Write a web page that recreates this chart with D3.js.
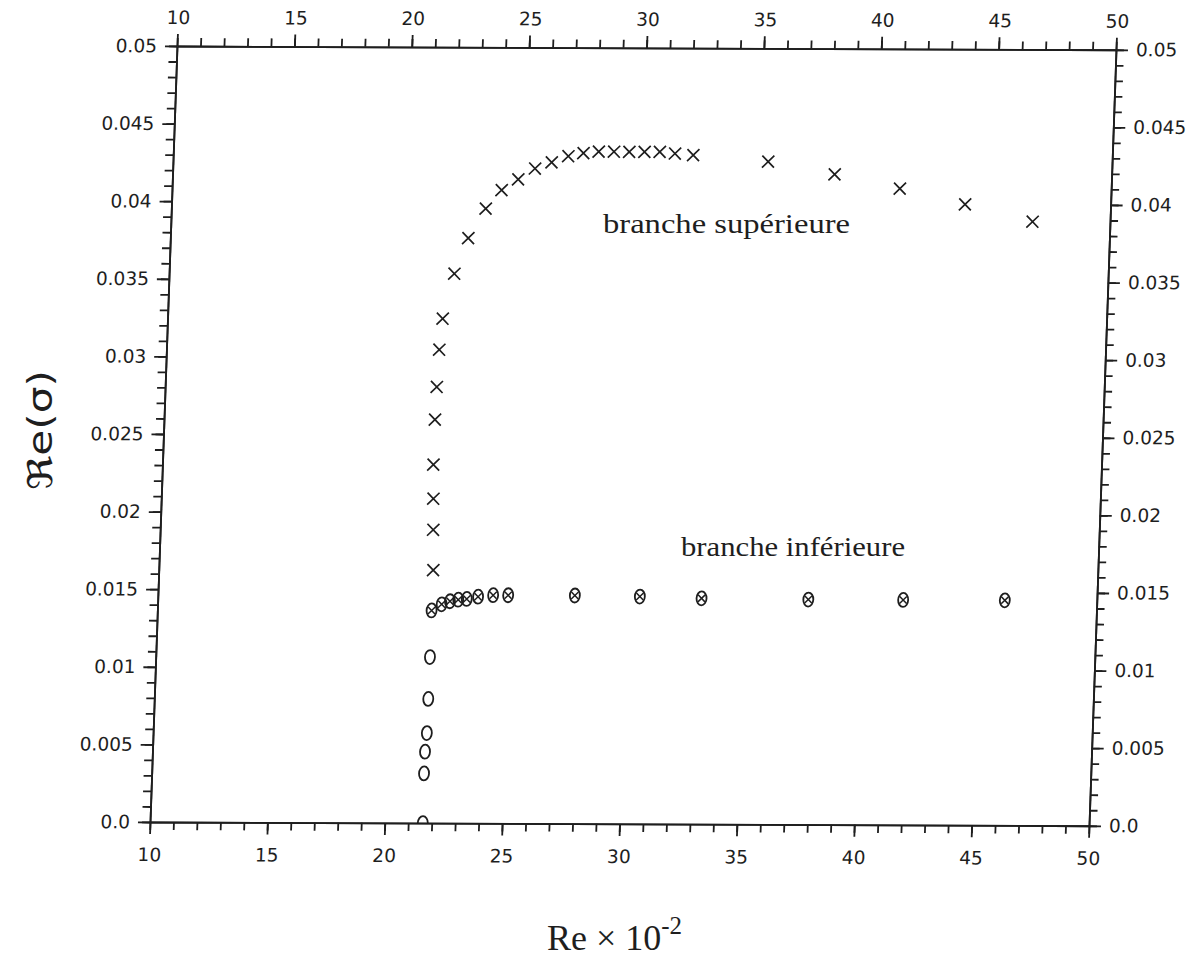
<!DOCTYPE html>
<html>
<head>
<meta charset="utf-8">
<script src="https://cdn.jsdelivr.net/npm/d3@7"></script>
<style>
  body { margin: 0; background: #fff; }
  svg { display: block; }
</style>
</head>
<body>
<div id="chart"></div>
<script>
// Data
var reUpper    = [21.69, 21.63, 21.59, 21.54, 21.54, 21.57, 21.62, 21.72, 22.15, 22.69, 23.39, 24.04, 24.73, 25.43, 26.13, 26.83,
                  27.47, 28.12, 28.77, 29.42, 30.07, 30.72, 31.37, 32.15, 35.35, 38.20, 41.00, 43.80, 46.70];
var sigmaUpper = [0.0163, 0.0189, 0.0209, 0.0231, 0.0260, 0.0281, 0.0305, 0.0325, 0.0354, 0.0377, 0.0396, 0.0408, 0.0415, 0.0422, 0.0426, 0.0430,
                  0.0432, 0.0433, 0.0433, 0.0433, 0.0433, 0.0433, 0.0432, 0.0431, 0.0427, 0.0419, 0.0410, 0.0400, 0.0389];

var reLower    = [21.62, 21.60, 21.61, 21.66, 21.67, 21.68];
var sigmaLower = [0.0, 0.0032, 0.0046, 0.0058, 0.0080, 0.0107];

// points where both branches coincide (drawn o with x)
var reBoth     = [21.68, 22.10, 22.45, 22.80, 23.16, 23.64, 24.28, 24.92, 27.76, 30.53, 33.16, 37.71, 41.75, 46.08];
var sigmaBoth  = [0.0137, 0.0141, 0.0143, 0.0144, 0.01445, 0.0146, 0.0147, 0.0147, 0.0147, 0.01465, 0.01455, 0.0145, 0.0145, 0.0145];

var xMajor = d3.range(10, 51, 5),
    xMinor = d3.range(10, 51, 1),
    yMajor = d3.range(0, 0.0501, 0.005),
    yMinor = d3.range(0, 0.0501, 0.001);

var ink = "#1e1e1e";

// Layout (the scan is slightly sheared, so the plot group gets a matrix)
var width  = 1193,
    height = 969,
    W = 939,
    H = 776;

var svg = d3.select("#chart").append("svg")
    .attr("width", width)
    .attr("height", height);

var g = svg.append("g")
    .attr("transform", "matrix(1,0.004,-0.0348,1,177,46)");

var x = d3.scaleLinear().domain([10, 50]).range([0, W]);
var y = d3.scaleLinear().domain([0, 0.05]).range([H, 0]);

var fmtY = function(d) { return d < 1e-9 ? "0.0" : String(+d.toFixed(3)); };
var fmtX = function(d) { return String(d); };

function styleAxis(sel) {
  sel.selectAll("path, line").attr("stroke", ink).attr("stroke-width", 1.8);
  sel.selectAll("text")
     .attr("fill", ink)
     .style("font-family", "'DejaVu Sans', sans-serif")
     .style("font-size", "18.5px");
}

// minor ticks (no labels)
function minor(axis, vals) {
  return axis.tickValues(vals).tickSize(8).tickSizeOuter(0).tickFormat("");
}

g.append("g").attr("transform", "translate(0," + H + ")")
  .call(minor(d3.axisBottom(x), xMinor)).call(styleAxis);
g.append("g")
  .call(minor(d3.axisTop(x), xMinor)).call(styleAxis);
g.append("g")
  .call(minor(d3.axisLeft(y), yMinor)).call(styleAxis);
g.append("g").attr("transform", "translate(" + W + ",0)")
  .call(minor(d3.axisRight(y), yMinor)).call(styleAxis);

// major ticks with labels
g.append("g").attr("transform", "translate(0," + H + ")")
  .call(d3.axisBottom(x).tickValues(xMajor).tickSize(12).tickSizeOuter(0).tickPadding(14).tickFormat(fmtX))
  .call(styleAxis);
g.append("g")
  .call(d3.axisTop(x).tickValues(xMajor).tickSize(12).tickSizeOuter(0).tickPadding(10).tickFormat(fmtX))
  .call(styleAxis);
g.append("g")
  .call(d3.axisLeft(y).tickValues(yMajor).tickSize(12).tickSizeOuter(0).tickPadding(8).tickFormat(fmtY))
  .call(styleAxis);
g.append("g").attr("transform", "translate(" + W + ",0)")
  .call(d3.axisRight(y).tickValues(yMajor).tickSize(12).tickSizeOuter(0).tickPadding(8).tickFormat(fmtY))
  .call(styleAxis);

// clip markers to the frame (the o at 0 shows only its top half)
g.append("clipPath").attr("id", "frame")
  .append("rect").attr("x", 0).attr("y", 0).attr("width", W).attr("height", H);

var marks = g.append("g").attr("clip-path", "url(#frame)");

var cross = function(s) {
  return "M" + (-s) + "," + (-s) + "L" + s + "," + s + "M" + (-s) + "," + s + "L" + s + "," + (-s);
};

// upper branch: crosses
marks.selectAll("path.up")
  .data(d3.zip(reUpper, sigmaUpper))
  .enter().append("path")
    .attr("class", "up")
    .attr("transform", function(d) { return "translate(" + x(d[0]) + "," + y(d[1]) + ")"; })
    .attr("d", cross(6))
    .attr("fill", "none")
    .attr("stroke", ink)
    .attr("stroke-width", 1.7);

// lower branch: open circles
marks.selectAll("ellipse.low")
  .data(d3.zip(reLower, sigmaLower))
  .enter().append("ellipse")
    .attr("class", "low")
    .attr("cx", function(d) { return x(d[0]); })
    .attr("cy", function(d) { return y(d[1]); })
    .attr("rx", 5)
    .attr("ry", 7)
    .attr("fill", "none")
    .attr("stroke", ink)
    .attr("stroke-width", 1.8);

// overlapping points: circle with a small cross inside
var both = marks.selectAll("g.both")
  .data(d3.zip(reBoth, sigmaBoth))
  .enter().append("g")
    .attr("class", "both")
    .attr("transform", function(d) { return "translate(" + x(d[0]) + "," + y(d[1]) + ")"; });
both.append("ellipse")
    .attr("rx", 5).attr("ry", 7)
    .attr("fill", "none").attr("stroke", ink).attr("stroke-width", 1.8);
both.append("path")
    .attr("d", cross(3.5))
    .attr("fill", "none").attr("stroke", ink).attr("stroke-width", 1.5);

// annotations
svg.append("text")
  .attr("x", 603).attr("y", 233)
  .attr("textLength", 247).attr("lengthAdjust", "spacingAndGlyphs")
  .style("font-family", "'Liberation Serif', serif").style("font-size", "28px")
  .attr("fill", ink)
  .text("branche supérieure");

svg.append("text")
  .attr("x", 681).attr("y", 556)
  .attr("textLength", 224).attr("lengthAdjust", "spacingAndGlyphs")
  .style("font-family", "'Liberation Serif', serif").style("font-size", "28px")
  .attr("fill", ink)
  .text("branche inférieure");

// axis titles
svg.append("text")
  .attr("transform", "translate(52,430) rotate(-90)")
  .attr("text-anchor", "middle")
  .attr("textLength", 120).attr("lengthAdjust", "spacingAndGlyphs")
  .style("font-family", "'DejaVu Sans', sans-serif").style("font-size", "34px")
  .attr("fill", ink)
  .text("\u211Ce(\u03C3)");

var xt = svg.append("text")
  .attr("x", 547).attr("y", 950)
  .style("font-family", "'Liberation Serif', serif").style("font-size", "36px")
  .attr("fill", ink);
xt.append("tspan").text("Re \u00D7 10");
xt.append("tspan").attr("dy", -16).style("font-size", "25px").text("-2");
</script>
</body>
</html>
